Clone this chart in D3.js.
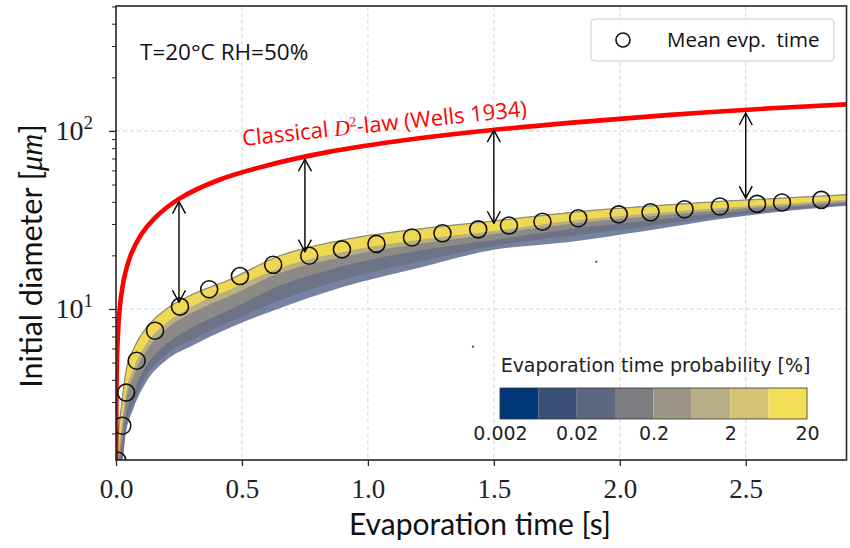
<!DOCTYPE html>
<html>
<head>
<meta charset="utf-8">
<script src="https://cdn.jsdelivr.net/npm/d3@7"></script>
<style>
	body { margin: 0; background: #fff; }
	svg { display: block; }
</style>
</head>
<body>
<script>
// mean evaporation time (circles)
const meanTime = [0.005, 0.025, 0.04, 0.082, 0.155, 0.254, 0.37, 0.492, 0.624, 0.767, 0.897, 1.034, 1.175, 1.296, 1.438, 1.56, 1.693, 1.835, 1.996, 2.122, 2.257, 2.397, 2.545, 2.644, 2.8];
const meanDiameter = [1.41, 2.21, 3.39, 5.12, 7.55, 10.3, 12.9, 15.3, 17.7, 19.9, 21.6, 23.2, 25.2, 26.6, 28.0, 29.4, 30.9, 32.3, 34.0, 34.9, 36.3, 37.6, 38.9, 39.6, 41.0];

// classical D2-law (Wells 1934)
const lawTime = [0.0002, 0.0003, 0.001, 0.002, 0.004, 0.007, 0.012, 0.02, 0.035, 0.06, 0.1, 0.15, 0.25, 0.4, 0.6, 0.85, 1.1, 1.4, 1.8, 2.2, 2.6, 2.9];
const lawDiameter = [1.17, 1.44, 2.6, 3.7, 5.2, 6.9, 9.1, 11.7, 15.5, 20.3, 26.2, 32, 41.5, 52.5, 64, 76.5, 87, 98, 111, 123, 134, 141];

// double arrows between the law and the mean
const arrowTime = [0.25, 0.75, 1.5, 2.5];
const arrowTop = [40.1, 69.3, 101, 126];
const arrowBottom = [10.9, 21.0, 30.3, 41.9];

// probability band, vertical cuts: upper edge and lower limits of each level
const bandTime = [0.003, 0.01, 0.02, 0.04, 0.07, 0.12, 0.2, 0.3, 0.45, 0.65, 0.9, 1.2, 1.5, 1.8, 2.1, 2.4, 2.7, 2.95];
const bandEdge = [1.51, 2.04, 2.71, 4.49, 5.96, 7.82, 10.0, 12.0, 14.6, 19.9, 24.4, 28.1, 31.2, 34.8, 37.7, 40.2, 42.3, 44.3];
const bandYellow = [1.33, 1.61, 2.09, 3.42, 4.66, 6.36, 8.34, 10.3, 12.8, 17.0, 20.9, 24.4, 27.4, 31.2, 34.2, 36.9, 39.4, 41.5];
const bandKhaki = [1.3, 1.46, 1.84, 3.08, 4.20, 5.81, 7.72, 9.50, 11.8, 15.9, 19.6, 23.2, 26.4, 30.0, 32.9, 35.8, 38.4, 40.4];
const bandGray = [1.3, 1.3, 1.57, 2.54, 3.42, 4.78, 6.36, 7.82, 9.87, 13.5, 17.4, 21.2, 24.4, 28.1, 31.2, 34.6, 37.4, 39.7];
const bandBlue = [1.3, 1.3, 1.3, 2.23, 3.00, 4.20, 5.59, 6.70, 8.45, 11.2, 14.6, 18.4, 22.6, 25.7, 28.9, 32.9, 36.5, 38.9];
const bandOuter = [1.3, 1.3, 1.3, 2.04, 2.78, 3.89, 5.17, 6.20, 7.82, 10.1, 13.3, 17.0, 21.5, 23.8, 27.4, 32.0, 36.0, 38.4];

// isolated outliers
const outlierTime = [1.907, 1.417];
const outlierDiameter = [18.4, 6.14];

// colorbar
const probBins = [0.002, 0.0063, 0.02, 0.063, 0.2, 0.63, 2, 6.3, 20];
const probColors = ['#00397a', '#3a5079', '#5e6780', '#7b7d80', '#9c9686', '#b7ae85', '#d6c475', '#f2df57'];
const probTicks = [0.002, 0.02, 0.2, 2, 20];

const xTicks = [0, 0.5, 1, 1.5, 2, 2.5];
const yMajor = [10, 100];
const yMinor = [2, 3, 4, 5, 6, 7, 8, 9, 20, 30, 40, 50, 60, 70, 80, 90, 200, 300, 400, 500];

const w = 850;
const h = 548;
const plot = {left: 116, right: 846.5, top: 6, bottom: 460};
const sansTex = '"Open Sans", Lato, sans-serif';
const sansTitle = 'Lato, "Open Sans", sans-serif';
const serif = '"Liberation Serif", "DejaVu Serif", serif';
const sansMpl = '"DejaVu Sans", sans-serif';
const ink = '#262626';

const x = d3.scaleLinear().domain([0, 2.9]).range([plot.left, plot.right]);
const y = d3.scaleLog().domain([1.418, 503]).range([plot.bottom, plot.top]);

const svg = d3.select('body').append('svg')
	.attr('width', w)
	.attr('height', h)
	.style('font-family', sansTex);

const defs = svg.append('defs');
defs.append('clipPath')
	.attr('id', 'clip')
	.append('rect')
	.attr('x', plot.left)
	.attr('y', plot.top)
	.attr('width', plot.right - plot.left)
	.attr('height', plot.bottom - plot.top);

defs.append('marker')
	.attr('id', 'head')
	.attr('viewBox', '0 0 14 14')
	.attr('refX', 13)
	.attr('refY', 7)
	.attr('markerWidth', 14)
	.attr('markerHeight', 14)
	.attr('markerUnits', 'userSpaceOnUse')
	.attr('orient', 'auto-start-reverse')
	.append('path')
	.attr('d', 'M1,0.5 L13,7 L1,13.5')
	.attr('fill', 'none')
	.attr('stroke', '#000')
	.attr('stroke-width', 1.4);

// grid
const grid = svg.append('g').attr('stroke', '#d0d0d0').attr('stroke-width', 0.9).attr('stroke-dasharray', '4,3');
grid.selectAll('.gx')
	.data(xTicks.slice(1))
	.enter()
	.append('line')
	.attr('x1', d => x(d))
	.attr('x2', d => x(d))
	.attr('y1', plot.top)
	.attr('y2', plot.bottom);
grid.selectAll('.gy')
	.data(yMajor)
	.enter()
	.append('line')
	.attr('x1', plot.left)
	.attr('x2', plot.right)
	.attr('y1', d => y(d))
	.attr('y2', d => y(d));

const inner = svg.append('g').attr('clip-path', 'url(#clip)');

// probability band
const bandRows = bandTime.map((t, i) => ({
	t: t,
	edge: bandEdge[i],
	yellow: bandYellow[i],
	khaki: bandKhaki[i],
	gray: bandGray[i],
	blue: bandBlue[i],
	outer: bandOuter[i]
}));

const bandLayers = [
	{key: 'outer', fill: '#52648a', opacity: 0.8},
	{key: 'blue', fill: '#6c7386', opacity: 1},
	{key: 'gray', fill: '#8b8a86', opacity: 1},
	{key: 'khaki', fill: '#b9af82', opacity: 1},
	{key: 'yellow', fill: '#efd952', opacity: 1}
];

bandLayers.forEach(layer => {
	const area = d3.area()
		.curve(d3.curveMonotoneX)
		.x(d => x(d.t))
		.y0(d => y(d[layer.key]))
		.y1(d => y(d.edge));
	inner.append('path')
		.datum(bandRows)
		.attr('d', area)
		.attr('fill', layer.fill)
		.attr('fill-opacity', layer.opacity);
});

inner.append('path')
	.datum(bandRows)
	.attr('d', d3.line().curve(d3.curveMonotoneX).x(d => x(d.t)).y(d => y(d.edge)))
	.attr('fill', 'none')
	.attr('stroke', '#8e8c7c')
	.attr('stroke-width', 1.2);

inner.selectAll('.outlier')
	.data(outlierTime.map((t, i) => [t, outlierDiameter[i]]))
	.enter()
	.append('rect')
	.attr('x', d => x(d[0]) - 1)
	.attr('y', d => y(d[1]) - 1)
	.attr('width', 2)
	.attr('height', 2)
	.attr('fill', '#3a5079');

// D2 law
inner.append('path')
	.datum(lawTime.map((t, i) => [t, lawDiameter[i]]))
	.attr('d', d3.line().curve(d3.curveCatmullRom.alpha(0.5)).x(d => x(d[0])).y(d => y(d[1])))
	.attr('fill', 'none')
	.attr('stroke', '#ff0000')
	.attr('stroke-width', 4.6);

// arrows
svg.selectAll('.arrow')
	.data(arrowTime.map((t, i) => ({t: t, top: arrowTop[i], bottom: arrowBottom[i]})))
	.enter()
	.append('line')
	.attr('x1', d => x(d.t))
	.attr('x2', d => x(d.t))
	.attr('y1', d => y(d.top))
	.attr('y2', d => y(d.bottom))
	.attr('stroke', '#000')
	.attr('stroke-width', 1.4)
	.attr('marker-start', 'url(#head)')
	.attr('marker-end', 'url(#head)');

// mean circles
inner.selectAll('.mean')
	.data(meanTime.map((t, i) => [t, meanDiameter[i]]))
	.enter()
	.append('circle')
	.attr('cx', d => x(d[0]))
	.attr('cy', d => y(d[1]))
	.attr('r', 8.5)
	.attr('fill', 'none')
	.attr('stroke', '#111')
	.attr('stroke-width', 1.6);

// law label
const lawLabel = svg.append('text')
	.attr('transform', 'translate(243,146) rotate(-6)')
	.attr('fill', '#ff0000')
	.attr('font-size', 22);
lawLabel.append('tspan').text('Classical ');
lawLabel.append('tspan').attr('font-family', serif).attr('font-style', 'italic').text('D');
lawLabel.append('tspan').attr('font-family', serif).attr('font-size', 14).attr('dy', -8).text('2');
lawLabel.append('tspan').attr('dy', 8).text('-law (Wells 1934)');

svg.append('text')
	.attr('x', 140)
	.attr('y', 60)
	.attr('font-size', 22.5)
	.attr('fill', '#111')
	.text('T=20°C RH=50%');

// axes
const xAxis = d3.axisBottom(x)
	.tickValues(xTicks)
	.tickFormat(d3.format('.1f'))
	.tickSize(6)
	.tickPadding(13);

const gx = svg.append('g')
	.attr('transform', `translate(0,${plot.bottom})`)
	.call(xAxis);
gx.select('.domain').remove();
gx.selectAll('.tick line').attr('stroke', ink).attr('stroke-width', 1.3);
gx.selectAll('.tick text')
	.attr('font-family', serif)
	.attr('font-size', 27)
	.attr('fill', '#222');

const gyMinor = svg.append('g')
	.attr('transform', `translate(${plot.left},0)`)
	.call(d3.axisLeft(y).tickValues(yMinor).tickFormat(() => '').tickSize(4));
gyMinor.select('.domain').remove();
gyMinor.selectAll('.tick line').attr('stroke', ink).attr('stroke-width', 1);

const gy = svg.append('g')
	.attr('transform', `translate(${plot.left},0)`)
	.call(d3.axisLeft(y).tickValues(yMajor).tickFormat(() => '').tickSize(7).tickPadding(16));
gy.select('.domain').remove();
gy.selectAll('.tick line').attr('stroke', ink).attr('stroke-width', 1.3);
gy.selectAll('.tick text').each(function(d) {
	const t = d3.select(this)
		.attr('font-family', serif)
		.attr('font-size', 28)
		.attr('fill', '#222');
	t.append('tspan').text('10');
	t.append('tspan').attr('font-size', 19).attr('dy', -11).text(Math.round(Math.log10(d)));
});

svg.append('rect')
	.attr('x', plot.left)
	.attr('y', plot.top)
	.attr('width', plot.right - plot.left)
	.attr('height', plot.bottom - plot.top)
	.attr('fill', 'none')
	.attr('stroke', ink)
	.attr('stroke-width', 1.6);

svg.append('text')
	.attr('x', 480)
	.attr('y', 535)
	.attr('text-anchor', 'middle')
	.attr('font-family', sansTitle)
	.attr('font-size', 30)
	.attr('fill', '#111')
	.text('Evaporation time [s]');

const yLabel = svg.append('text')
	.attr('transform', 'translate(42,256) rotate(-90)')
	.attr('text-anchor', 'middle')
	.attr('font-family', sansTitle)
	.attr('font-size', 30.5)
	.attr('fill', '#111');
yLabel.append('tspan').text('Initial diameter [');
yLabel.append('tspan').attr('font-family', serif).attr('font-style', 'italic').text('μm');
yLabel.append('tspan').text(']');

// legend
const legend = svg.append('g');
legend.append('rect')
	.attr('x', 591)
	.attr('y', 19)
	.attr('width', 243)
	.attr('height', 42)
	.attr('rx', 4)
	.attr('fill', '#fff')
	.attr('fill-opacity', 0.85)
	.attr('stroke', '#cccccc')
	.attr('stroke-width', 1);
legend.append('circle')
	.attr('cx', 623)
	.attr('cy', 40)
	.attr('r', 7)
	.attr('fill', 'none')
	.attr('stroke', '#111')
	.attr('stroke-width', 1.6);
legend.append('text')
	.attr('x', 667)
	.attr('y', 47)
	.attr('font-size', 20.5)
	.attr('fill', '#111')
	.text('Mean evp.\u00a0 time');

// colorbar
const cb = d3.scaleLog().domain([0.002, 20]).range([500, 807]);
const cbar = svg.append('g').style('font-family', sansMpl);
cbar.append('text')
	.attr('x', 655.5)
	.attr('y', 372)
	.attr('text-anchor', 'middle')
	.attr('font-size', 19)
	.attr('fill', '#222')
	.text('Evaporation time probability [%]');
cbar.selectAll('.bin')
	.data(probColors)
	.enter()
	.append('rect')
	.attr('x', (c, i) => cb(probBins[i]))
	.attr('width', (c, i) => cb(probBins[i + 1]) - cb(probBins[i]))
	.attr('y', 388)
	.attr('height', 31)
	.attr('fill', c => c);
cbar.append('rect')
	.attr('x', 500)
	.attr('y', 388)
	.attr('width', 307)
	.attr('height', 31)
	.attr('fill', 'none')
	.attr('stroke', '#333')
	.attr('stroke-width', 0.8);
const gcb = cbar.append('g')
	.attr('transform', 'translate(0,419)')
	.call(d3.axisBottom(cb).tickValues(probTicks).tickFormat(d => String(d)).tickSize(0).tickPadding(8));
gcb.select('.domain').remove();
gcb.selectAll('.tick text')
	.attr('font-family', sansMpl)
	.attr('font-size', 19)
	.attr('fill', '#222');
</script>
</body>
</html>
